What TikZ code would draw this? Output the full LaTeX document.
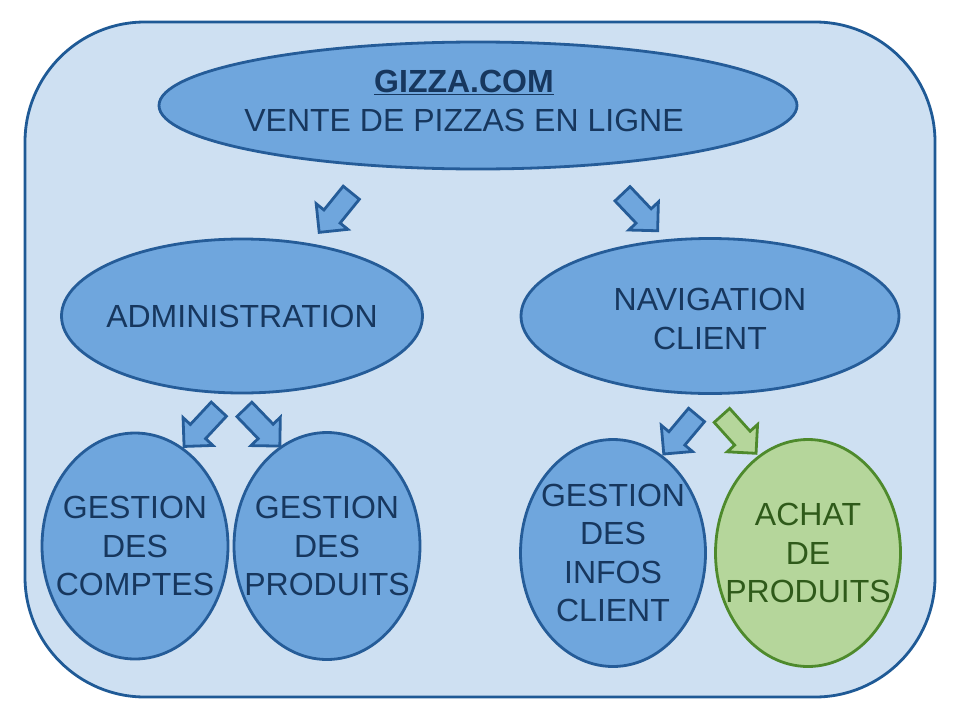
\documentclass[tikz,border=0pt]{standalone}
\usepackage{fontspec}
\setmainfont{Liberation Sans}
\usetikzlibrary{shapes.geometric,shapes.arrows}
\definecolor{bgfill}{HTML}{CEE0F2}
\definecolor{bgline}{HTML}{1F5A96}
\definecolor{elfill}{HTML}{6FA6DD}
\definecolor{elline}{HTML}{255C98}
\definecolor{txt}{HTML}{17375E}
\definecolor{grfill}{HTML}{B5D69B}
\definecolor{grline}{HTML}{4E8A2C}
\definecolor{grtxt}{HTML}{2F5A1A}
\tikzset{
  bubble/.style={ellipse, draw=elline, fill=elfill, line width=2.8pt, inner sep=0pt},
  greenbubble/.style={bubble, draw=grline, fill=grfill},
  caption/.style={align=center, text=txt, inner sep=0pt, font=\fontsize{32}{38.5}\selectfont},
  greencaption/.style={caption, text=grtxt},
  blockarrow/.style={single arrow, draw=elline, fill=elfill, line width=2.8pt,
    inner xsep=0pt, inner ysep=9pt, text height=0pt, text depth=0pt, text width=0pt,
    minimum height=51pt, single arrow head extend=10pt, single arrow head indent=0pt},
  greenarrow/.style={blockarrow, draw=grline, fill=grfill}
}
\begin{document}
\begin{tikzpicture}[x=1pt,y=-1pt]
\useasboundingbox (0,0) rectangle (960,720);
\node[draw=bgline, fill=bgfill, line width=2.8pt, rounded corners=120pt,
  minimum width=910pt, minimum height=675pt, inner sep=0pt] (frame) at (480,359.5) {};

\node[bubble, minimum width=638pt, minimum height=127pt] (top) at (478,105.5) {};
\node[caption] (topt) at (464,101)
  {\underline{\textbf{GIZZA.COM}}\\VENTE DE PIZZAS EN LIGNE};
\node[bubble, minimum width=361pt, minimum height=154pt] (admin) at (242,316) {};
\node[caption] (admint) at (admin.center) {ADMINISTRATION};
\node[bubble, minimum width=378pt, minimum height=155pt] (nav) at (710,316) {};
\node[caption] (navt) at (710,319) {NAVIGATION\\CLIENT};

\node[bubble, minimum width=186pt, minimum height=226pt] (comptes) at (135,546) {};
\node[caption] (comptest) at (comptes.center) {GESTION\\DES\\COMPTES};
\node[bubble, minimum width=186pt, minimum height=227pt] (produits) at (327,546) {};
\node[caption] (produitst) at (produits.center) {GESTION\\DES\\PRODUITS};
\node[bubble, minimum width=185pt, minimum height=227pt] (infos) at (613,553) {};
\node[caption] (infost) at (infos.center) {GESTION\\DES\\INFOS\\CLIENT};
\node[greenbubble, minimum width=185pt, minimum height=227pt] (achat) at (808,553) {};
\node[greencaption] (achatt) at (808,553) {ACHAT\\DE\\PRODUITS};

\node[blockarrow, rotate=-129] (a1) at (338.5,208.5) {};
\node[blockarrow, rotate=-46.5] (a2) at (636.5,208.5) {};
\node[blockarrow, rotate=-133] (a3) at (205,424) {};
\node[blockarrow, rotate=-46] (a4) at (258.5,424) {};
\node[blockarrow, rotate=-130] (a5) at (683.5,430.5) {};
\node[greenarrow, rotate=-48] (a6) at (735.5,430.5) {};
\end{tikzpicture}
\end{document}
